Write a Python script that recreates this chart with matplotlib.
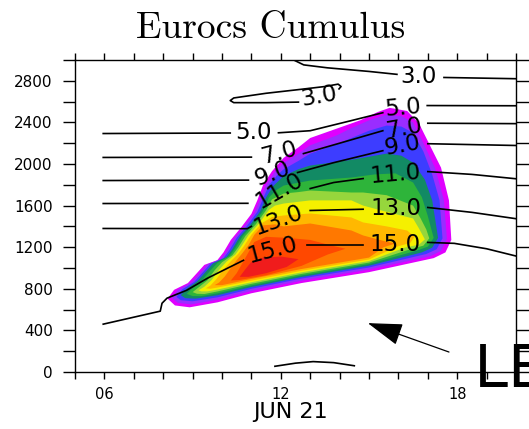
import matplotlib.pyplot as plt

# time axis in hours of JUN 21, height in m

# colour bands of the shaded field (outer = low, inner = high), outline points (hour, height)
band0 = [(8.15, 705), (8.37, 790), (8.84, 855), (9.16, 955), (9.4, 1030), (9.84, 1075),
         (10.05, 1150), (10.3, 1270), (10.65, 1390), (11.0, 1520), (11.2, 1650), (11.4, 1800),
         (11.7, 1930), (12.1, 2060), (12.6, 2160), (13.0, 2250), (13.9, 2340), (14.7, 2420),
         (15.3, 2500), (15.7, 2540), (16.3, 2510), (16.7, 2390), (17.0, 2220), (17.45, 1965),
         (17.72, 1650), (17.8, 1270), (17.6, 1150), (17.2, 1095), (15.0, 960), (12.7, 855),
         (11.0, 757), (9.85, 670), (8.9, 622), (8.4, 640)]
band1 = [(8.3, 712), (8.5, 790), (8.95, 860), (9.27, 960), (9.5, 1035), (9.95, 1085),
         (10.15, 1160), (10.4, 1280), (10.75, 1400), (11.1, 1530), (11.3, 1660), (11.5, 1800),
         (11.8, 1925), (12.1, 2010), (12.6, 2100), (13.0, 2180), (13.9, 2275), (14.4, 2345),
         (15.0, 2420), (15.6, 2475), (16.1, 2460), (16.5, 2400), (16.85, 2200), (17.25, 1960),
         (17.55, 1650), (17.65, 1280), (17.45, 1165), (17.1, 1115), (15.0, 985), (12.7, 878),
         (11.0, 780), (9.85, 695), (8.95, 650), (8.5, 665)]
band2 = [(8.45, 722), (8.65, 795), (9.05, 865), (9.37, 965), (9.6, 1040), (10.05, 1095),
         (10.25, 1170), (10.5, 1290), (10.85, 1405), (11.2, 1540), (11.4, 1670), (11.6, 1800),
         (11.9, 1900), (12.1, 1950), (12.6, 2030), (13.0, 2100), (13.9, 2190), (14.4, 2250),
         (15.0, 2320), (15.6, 2370), (16.1, 2360), (16.5, 2300), (16.85, 2120), (17.15, 1900),
         (17.4, 1650), (17.5, 1285), (17.3, 1180), (16.95, 1135), (15.0, 1005), (12.7, 898),
         (11.0, 800), (9.85, 718), (9.0, 680), (8.6, 690)]
band3 = [(8.6, 738), (8.8, 800), (9.15, 870), (9.47, 970), (9.7, 1045), (10.15, 1105),
         (10.35, 1180), (10.6, 1300), (10.95, 1410), (11.3, 1545), (11.5, 1680), (11.75, 1790),
         (12.1, 1885), (12.6, 1950), (13.0, 1985), (13.9, 2020), (14.4, 2040), (15.0, 2070),
         (15.6, 2100), (16.1, 2080), (16.5, 2013), (16.9, 1850), (17.15, 1650), (17.35, 1290),
         (17.15, 1195), (16.8, 1150), (15.0, 1022), (12.7, 913), (11.0, 817), (9.85, 738),
         (9.1, 705), (8.75, 710)]
band4 = [(8.8, 752), (9.0, 805), (9.3, 875), (9.6, 975), (9.85, 1050), (10.25, 1115),
         (10.45, 1190), (10.7, 1305), (11.05, 1415), (11.4, 1550), (11.6, 1680), (11.85, 1750),
         (12.1, 1793), (12.6, 1820), (13.0, 1841), (14.4, 1870), (15.2, 1900), (15.9, 1910),
         (16.5, 1822), (16.8, 1680), (17.0, 1500), (17.2, 1290), (17.0, 1205), (16.6, 1165),
         (15.0, 1038), (12.7, 928), (11.0, 833), (9.85, 757), (9.3, 730), (9.0, 730)]
band5 = [(9.0, 768), (9.2, 812), (9.5, 880), (9.75, 978), (10.0, 1055), (10.35, 1122),
         (10.55, 1198), (10.8, 1310), (11.15, 1420), (11.5, 1555), (11.7, 1660), (12.1, 1716),
         (12.6, 1730), (13.0, 1745), (14.4, 1726), (14.8, 1726), (15.6, 1700), (16.5, 1600),
         (16.75, 1480), (16.95, 1370), (17.05, 1285), (16.85, 1215), (16.4, 1180), (15.0, 1052),
         (12.7, 943), (11.0, 848), (9.85, 775), (9.4, 750), (9.15, 752)]
band6 = [(9.2, 785), (9.4, 820), (9.65, 885), (9.9, 982), (10.15, 1060), (10.45, 1128),
         (10.65, 1205), (10.9, 1315), (11.25, 1425), (11.6, 1560), (11.8, 1600), (12.1, 1620),
         (13.0, 1650), (14.4, 1650), (14.8, 1600), (15.6, 1540), (16.5, 1476), (16.7, 1380),
         (16.9, 1275), (16.7, 1225), (16.2, 1195), (15.0, 1067), (12.7, 958), (11.0, 863),
         (9.85, 793), (9.5, 775), (9.3, 775)]
band7 = [(9.45, 805), (9.6, 830), (9.8, 890), (10.05, 985), (10.3, 1065), (10.55, 1135),
         (10.75, 1212), (11.0, 1320), (11.35, 1430), (11.7, 1490), (12.1, 1505), (13.0, 1524),
         (14.4, 1486), (14.8, 1438), (15.6, 1400), (16.3, 1360), (16.55, 1300), (16.4, 1240),
         (16.0, 1210), (15.0, 1082), (12.7, 973), (11.0, 878), (9.85, 812), (9.6, 800)]
band8 = [(9.75, 835), (9.9, 860), (10.1, 920), (10.3, 1000), (10.5, 1075), (10.7, 1145),
         (10.9, 1220), (11.1, 1320), (11.4, 1410), (11.8, 1420), (12.1, 1400), (13.0, 1428),
         (14.4, 1361), (14.8, 1313), (15.5, 1260), (15.9, 1235), (15.5, 1200), (15.0, 1100),
         (12.7, 990), (11.0, 895), (10.0, 835)]
band9 = [(10.3, 880), (10.5, 950), (10.7, 1050), (10.9, 1150), (11.1, 1250), (11.5, 1300),
         (12.2, 1290), (13.0, 1270), (13.6, 1225), (14.2, 1185), (13.6, 1130), (12.7, 1020),
         (11.5, 930), (10.6, 885)]
band10 = [(10.6, 915), (10.8, 990), (11.0, 1060), (11.4, 1100), (12.0, 1110), (12.6, 1085),
          (12.2, 1010), (11.5, 950), (10.9, 915)]
band_colors = ['#e000ff', '#9a2dff', '#3d3dff', '#128a64', '#2eb43a', '#96d63c',
               '#f5f000', '#ffb800', '#ff7800', '#ff4800', '#f01c1c']

# black contour lines, split where the labels sit
c3_a = [(12.44, 3000), (12.78, 2953), (13.58, 2925), (15.0, 2890), (15.95, 2862)]
c3_b = [(17.55, 2832), (20.0, 2820)]
c3_loop = [(12.6, 2595), (11.5, 2590), (10.4, 2590), (10.28, 2610), (10.4, 2635), (11.5, 2680),
           (12.5, 2712), (13.5, 2745), (13.95, 2768), (14.05, 2745), (13.98, 2722)]
c3_low = [(11.8, 55), (12.5, 85), (13.1, 100), (13.8, 90), (14.5, 60)]
c5_a = [(5.96, 2293), (10.28, 2298)]
c5_b = [(11.92, 2300), (13.0, 2320), (14.38, 2416), (15.47, 2493)]
c5_c = [(16.98, 2562), (20.0, 2560)]
c7_a = [(5.96, 2063), (11.0, 2066)]
c7_b = [(12.77, 2100), (14.0, 2200), (15.47, 2320)]
c7_c = [(17.0, 2392), (20.0, 2388)]
c9_a = [(5.96, 1841), (10.9, 1845)]
c9_b = [(12.57, 1918), (13.8, 2013), (15.47, 2128)]
c9_c = [(17.0, 2195), (20.0, 2178)]
c11_a = [(5.96, 1620), (10.88, 1622)]
c11_b = [(13.0, 1764), (13.8, 1822), (14.8, 1860)]
c11_c = [(17.0, 1927), (18.5, 1900), (20.0, 1858)]
c13_a = [(5.96, 1380), (10.86, 1378), (11.0, 1400)]
c13_b = [(13.0, 1553), (14.8, 1565)]
c13_c = [(17.0, 1582), (18.5, 1535), (20.0, 1474)]
c15_a = [(5.96, 460), (7.9, 585), (7.96, 661), (8.13, 710), (8.8, 786), (9.5, 901),
         (10.18, 997), (10.73, 1074)]
c15_b = [(12.9, 1218), (14.8, 1218)]
c15_c = [(17.0, 1246), (17.9, 1237), (19.0, 1185), (20.0, 1115)]

clab_text = ['3.0', '3.0', '5.0', '5.0', '7.0', '7.0', '9.0', '9.0',
             '11.0', '11.0', '13.0', '13.0', '15.0', '15.0']
clab_h = [16.7, 13.3, 11.07, 16.15, 11.93, 16.18, 11.72, 16.15,
          11.96, 15.9, 11.92, 15.9, 11.72, 15.9]
clab_z = [2845, 2650, 2300, 2540, 2110, 2345, 1908, 2176,
          1745, 1898, 1457, 1572, 1170, 1225]
clab_rot = [0, 10, 0, 5, 15, 10, 20, 10, 30, 5, 20, 0, 15, 0]

xtick_values = list(range(5, 21))
xtick_labels = ['06' if v == 6 else '12' if v == 12 else '18' if v == 18 else '' for v in xtick_values]
ytick_values = list(range(0, 3001, 200))
ytick_labels = [str(v) if v % 400 == 0 and v < 3000 else '' for v in ytick_values]

arrow_tip = (14.96, 470)
arrow_tail = (17.72, 192)

bands = [band0, band1, band2, band3, band4, band5, band6, band7, band8, band9, band10]
contour_lines = [c3_a, c3_b, c3_loop, c3_low, c5_a, c5_b, c5_c, c7_a, c7_b, c7_c,
                 c9_a, c9_b, c9_c, c11_a, c11_b, c11_c, c13_a, c13_b, c13_c,
                 c15_a, c15_b, c15_c]

fig = plt.figure(figsize=(5.29, 4.29), dpi=100)
ax = fig.add_axes([75 / 529, 57 / 429, 441 / 529, 312 / 429])

for band, col in zip(bands, band_colors):
    ax.fill([p[0] for p in band], [p[1] for p in band], color=col, lw=0)

for seg in contour_lines:
    ax.plot([p[0] for p in seg], [p[1] for p in seg], color='k', lw=1.2)

for t, h, z, r in zip(clab_text, clab_h, clab_z, clab_rot):
    ax.text(h, z, t, fontsize=16.5, rotation=r, ha='center', va='center',
            rotation_mode='anchor')

ax.annotate('', xy=arrow_tip, xytext=arrow_tail,
            arrowprops=dict(arrowstyle='-|>,head_length=1.1,head_width=0.35',
                            mutation_scale=20, lw=0.9, color='k', shrinkA=0, shrinkB=0))

ax.set_xlim(5, 20)
ax.set_ylim(0, 3000)
ax.set_xticks(xtick_values)
ax.set_xticklabels(xtick_labels, fontsize=10.5)
ax.set_yticks(ytick_values)
ax.set_yticklabels(ytick_labels, fontsize=11)
ax.tick_params(axis='x', direction='out', length=5, width=1, top=True, pad=6)
ax.tick_params(axis='y', direction='out', length=9, width=1, right=True, pad=7)
for s in ax.spines.values():
    s.set_linewidth(1)

fig.text(271 / 529, 1 - 38 / 429, 'Eurocs Cumulus', family='cmr10', fontsize=27,
         ha='center', va='baseline')
fig.text(290 / 529, 1 - 418 / 429, 'JUN 21', fontsize=16, ha='center', va='baseline')
fig.text(475 / 529, 1 - 387 / 429, 'LE', family='Liberation Sans', fontsize=45,
         ha='left', va='baseline')

fig.savefig('out.png', dpi=100)
